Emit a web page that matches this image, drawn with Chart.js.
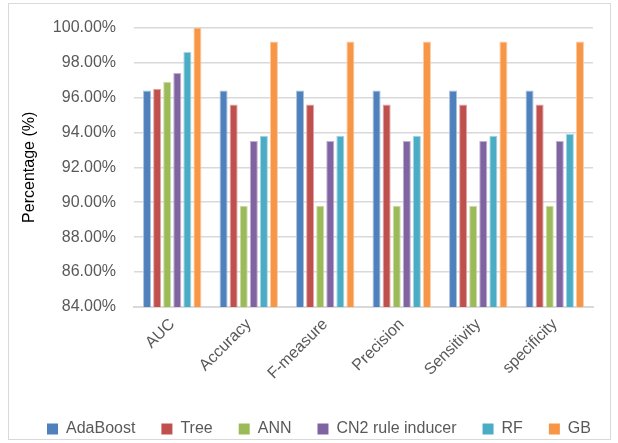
<!DOCTYPE html>
<html>
<head>
<meta charset="utf-8">
<script src="https://cdn.jsdelivr.net/npm/chart.js@4.4.1/dist/chart.umd.min.js"></script>
<style>
  html, body { margin: 0; padding: 0; background: #fff; }
  #wrap { position: relative; width: 618px; height: 443px; }
  #frame { position: absolute; left: 8px; top: 3px; width: 603px; height: 437px; border: 1px solid #d9d9d9; box-sizing: border-box; }
  canvas { position: absolute; left: 0; top: 0; }
</style>
</head>
<body>
<div id="wrap">
  <div id="frame"></div>
  <canvas id="c" width="618" height="443"></canvas>
</div>
<script>
// Metrics on the x axis
const categories = ['AUC', 'Accuracy', 'F-measure', 'Precision', 'Sensitivity', 'specificity'];

// Scores per classifier (percent)
const adaBoost = [96.4, 96.4, 96.4, 96.4, 96.4, 96.4];
const tree     = [96.5, 95.6, 95.6, 95.6, 95.6, 95.6];
const ann      = [96.9, 89.8, 89.8, 89.8, 89.8, 89.8];
const cn2      = [97.4, 93.5, 93.5, 93.5, 93.5, 93.5];
const rf       = [98.6, 93.8, 93.8, 93.8, 93.8, 93.9];
const gb       = [100.0, 99.2, 99.2, 99.2, 99.2, 99.2];

const seriesNames = ['AdaBoost', 'Tree', 'ANN', 'CN2 rule inducer', 'RF', 'GB'];
const seriesData = [adaBoost, tree, ann, cn2, rf, gb];
const fills   = ['#4f81bd', '#c0504d', '#9bbb59', '#8064a2', '#4bacc6', '#f79646'];
const edges   = ['#a7c0de', '#e0a8a6', '#cddcac', '#bfb1d0', '#a5d5e2', '#fbcaa2'];

const FONT = 'Liberation Sans';
const GREY = '#595959';

const datasets = seriesNames.map((name, i) => ({
  label: name,
  data: seriesData[i],
  backgroundColor: fills[i],
  borderColor: edges[i],
  borderWidth: 1,
  categoryPercentage: 0.79,
  barPercentage: 0.8
}));

new Chart(document.getElementById('c'), {
  type: 'bar',
  data: { labels: categories, datasets },
  options: {
    responsive: false,
    animation: false,
    layout: { padding: { left: 20, right: 0, top: 21, bottom: -4 } },
    plugins: {
      tooltip: { enabled: false },
      legend: {
        position: 'bottom',
        labels: {
          boxWidth: 11,
          boxHeight: 11,
          padding: 26,
          color: GREY,
          font: { family: FONT, size: 16 },
          generateLabels(chart) {
            return chart.data.datasets.map((ds, i) => ({
              text: ds.label,
              fillStyle: ds.backgroundColor,
              strokeStyle: ds.backgroundColor,
              lineWidth: 0,
              fontColor: GREY,
              datasetIndex: i
            }));
          }
        }
      }
    },
    scales: {
      x: {
        grid: { display: false, drawTicks: false },
        border: { color: '#d9d9d9', width: 2 },
        ticks: {
          color: GREY,
          font: { family: FONT, size: 16 },
          minRotation: 45,
          maxRotation: 45,
          padding: 8
        },
        afterFit(scale) { scale.height = 88; }
      },
      y: {
        min: 84,
        max: 100,
        grid: { color: '#d9d9d9', lineWidth: 1.5, drawTicks: false },
        border: { display: false },
        ticks: {
          stepSize: 2,
          color: GREY,
          font: { family: FONT, size: 16 },
          padding: 18,
          callback: v => v.toFixed(2) + '%'
        },
        title: {
          display: true,
          text: 'Percentage (%)',
          color: '#000',
          font: { family: FONT, size: 16 },
          padding: { top: 0, bottom: 4 }
        },
        afterFit(scale) { scale.width = 114; }
      },
      // empty right-hand margin beside the plot
      yRight: {
        position: 'right',
        display: true,
        min: 84,
        max: 100,
        grid: { display: false, drawTicks: false },
        border: { display: false },
        ticks: { display: false },
        afterFit(scale) { scale.width = 25; }
      }
    }
  }
});
</script>
</body>
</html>
